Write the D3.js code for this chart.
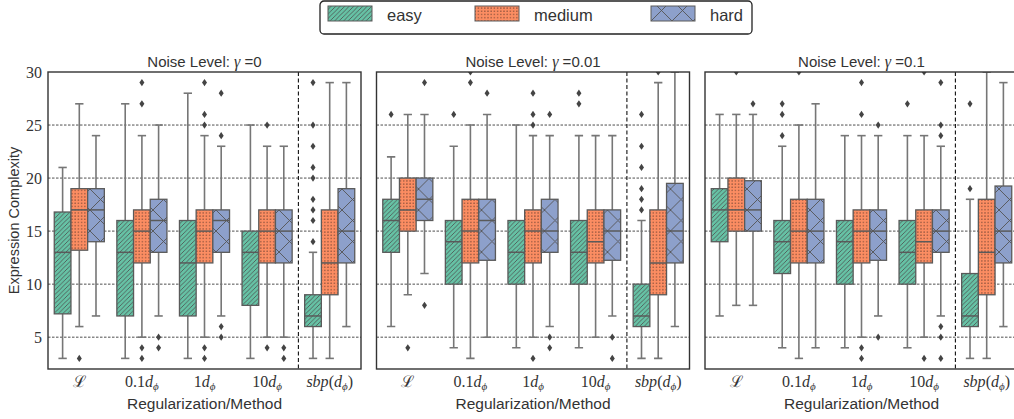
<!DOCTYPE html>
<html>
<head>
<meta charset="utf-8">
<script src="https://cdn.jsdelivr.net/npm/d3@7"></script>
<style>
body { margin: 0; background: #fff; }
svg { display: block; }
</style>
</head>
<body>
<svg id="chart"></svg>
<script>
const noiseLevels = ["0", "0.01", "0.1"];
const methods = ["L", "0.1", "1", "10", "sbp"];
const difficulties = ["easy", "medium", "hard"];
const colors = ["#66c2a5", "#fc8d62", "#8da0cb"];
const yTicks = [5, 10, 15, 20, 25, 30];

// box stats: [low whisker, q1, median, q3, high whisker], per method, per difficulty
const boxesNoise0 = [
    [[3, 7.2, 13, 16.8, 21], [6, 13.2, 17, 19, 27], [7, 14, 17, 19, 24]],
    [[3, 7, 13, 16, 27], [5, 12, 15, 17, 24], [7, 13, 16, 18, 25]],
    [[3, 7, 12, 16, 28], [5, 12, 15, 17, 24], [7, 13, 16, 17, 23]],
    [[3, 8, 13, 15, 25], [5, 12, 15, 17, 23], [5, 12, 15, 17, 23]],
    [[3, 6, 7, 9, 13], [3, 9, 12, 17, 29], [6, 12, 15, 19, 29]]
];
const fliersNoise0 = [
    [[], [3], []],
    [[], [27, 29, 4, 3], [5, 4]],
    [[], [25, 26, 29, 4, 3], [24, 28, 6, 5]],
    [[], [25, 4], [4, 3]],
    [[14, 16, 17, 18, 20, 21, 23, 25, 29], [], []]
];

const boxesNoise001 = [
    [[6, 13, 16, 18, 22], [9, 15, 17, 20, 26], [11, 16, 18, 20, 26]],
    [[4, 10, 14, 16, 23], [3, 12, 15, 18, 25], [5, 12.25, 16, 18, 26]],
    [[4, 10, 13, 16, 25], [5, 12, 15, 17, 24], [6, 13, 15, 18, 24]],
    [[4, 10, 13, 16, 24], [5, 12, 14, 17, 24], [7, 12.25, 15, 17, 24]],
    [[3, 6, 7, 10, 16], [3, 9, 12, 17, 29], [6, 12, 15, 19.5, 30]]
];
const fliersNoise001 = [
    [[26], [4], [29, 8]],
    [[26], [29, 30], [28]],
    [[], [25, 26, 28, 3], [26, 5, 4]],
    [[27, 28], [], [5, 3]],
    [[17, 18, 19, 21, 23, 26], [30], []]
];

const boxesNoise01 = [
    [[7, 14, 17, 19, 26], [8, 15, 17, 20, 26], [8, 15, 17, 19.75, 26]],
    [[4, 11, 14, 16, 23], [3, 12, 15, 18, 25], [4, 12, 15, 18, 27]],
    [[4, 10, 14, 16, 24], [5, 12, 15, 17, 24], [7, 12.25, 15, 17, 24]],
    [[4, 10, 13, 16, 24], [5, 12, 14, 17, 24], [7, 13, 15, 17, 23]],
    [[3, 6, 7, 11, 18], [3, 9, 13, 18, 30], [6, 12, 15, 19.25, 29]]
];
const fliersNoise01 = [
    [[], [30], [27]],
    [[24, 26, 27], [30], []],
    [[], [26, 29, 4, 3], [25, 5]],
    [[27], [30, 3], [24, 25, 29, 6, 5, 3]],
    [[19, 27], [], []]
];

const allBoxes = [boxesNoise0, boxesNoise001, boxesNoise01];
const allFliers = [fliersNoise0, fliersNoise001, fliersNoise01];

const width = 1014;
const height = 419;
const panelW = 313;
const panelStep = 328.5;
const marginLeft = 48;
const plotTop = 72;
const plotBottom = 369;

let svg = d3.select("#chart").attr("width", width).attr("height", height);

// hatch patterns
let defs = svg.append("defs");
let pEasy = defs.append("pattern").attr("id", "hatch-easy")
    .attr("patternUnits", "userSpaceOnUse").attr("width", 4.5).attr("height", 4.5);
pEasy.append("rect").attr("width", 4.5).attr("height", 4.5).attr("fill", colors[0]);
pEasy.append("path").attr("d", "M-1,1 l2,-2 M0,4.5 l4.5,-4.5 M3.5,5.5 l2,-2")
    .attr("stroke", "#4d4d4d").attr("stroke-width", 0.8);

let pMed = defs.append("pattern").attr("id", "hatch-medium")
    .attr("patternUnits", "userSpaceOnUse").attr("width", 3.2).attr("height", 3.2);
pMed.append("rect").attr("width", 3.2).attr("height", 3.2).attr("fill", colors[1]);
pMed.append("circle").attr("cx", 1.6).attr("cy", 1.6).attr("r", 0.7).attr("fill", "#7a4836");

let pHard = defs.append("pattern").attr("id", "hatch-hard")
    .attr("patternUnits", "userSpaceOnUse").attr("width", 21).attr("height", 21);
pHard.append("rect").attr("width", 21).attr("height", 21).attr("fill", colors[2]);
pHard.append("path").attr("d", "M0,0 L21,21 M21,0 L0,21")
    .attr("stroke", "#555").attr("stroke-width", 0.9);

const fills = ["url(#hatch-easy)", "url(#hatch-medium)", "url(#hatch-hard)"];

defs.append("clipPath").attr("id", "plotclip")
    .append("rect").attr("x", 0).attr("y", plotTop).attr("width", panelW).attr("height", plotBottom - plotTop);

let y = d3.scaleLinear().domain([2, 30]).range([plotBottom, plotTop]);
let xOuter = d3.scaleBand().domain(methods).range([0, panelW]);
let xInner = d3.scaleBand().domain(difficulties)
    .range([xOuter.bandwidth() * 0.1, xOuter.bandwidth() * 0.9]);

// x tick labels (math)
const tickParts = {
    "L": [{ t: "ℒ", f: "DejaVu Serif", it: false }],
    "0.1": [{ t: "0.1" }, { t: "d", it: true }, { t: "ϕ", it: true, sub: true }],
    "1": [{ t: "1" }, { t: "d", it: true }, { t: "ϕ", it: true, sub: true }],
    "10": [{ t: "10" }, { t: "d", it: true }, { t: "ϕ", it: true, sub: true }],
    "sbp": [{ t: "sbp", it: true }, { t: "(" }, { t: "d", it: true }, { t: "ϕ", it: true, sub: true }, { t: ")" }]
};

const diamond = "M0,-3.6 L2.5,0 L0,3.6 L-2.5,0Z";

noiseLevels.forEach((noise, pi) => {
    let g = svg.append("g").attr("transform", `translate(${marginLeft + pi * panelStep},0)`);
    let boxes = allBoxes[pi];
    let fliers = allFliers[pi];

    // grid
    g.selectAll(".grid").data([5, 10, 15, 20, 25]).enter().append("line")
        .attr("x1", 0).attr("x2", panelW)
        .attr("y1", d => y(d)).attr("y2", d => y(d))
        .attr("stroke", "#222").attr("stroke-width", 0.8)
        .attr("stroke-dasharray", "2.5,1.5");

    // separator before sbp
    g.append("line")
        .attr("x1", xOuter("sbp")).attr("x2", xOuter("sbp"))
        .attr("y1", plotTop).attr("y2", plotBottom)
        .attr("stroke", "#111").attr("stroke-width", 1.1)
        .attr("stroke-dasharray", "4,2.5");

    let plot = g.append("g").attr("clip-path", "url(#plotclip)");

    methods.forEach((m, mi) => {
        difficulties.forEach((dif, di) => {
            let s = boxes[mi][di];
            let x0 = xOuter(m) + xInner(dif);
            let bw = xInner.bandwidth();
            let cx = x0 + bw / 2;
            let grp = plot.append("g");
            // whiskers
            grp.append("line").attr("x1", cx).attr("x2", cx)
                .attr("y1", y(s[3])).attr("y2", y(s[4]))
                .attr("stroke", "#767676").attr("stroke-width", 1.6);
            grp.append("line").attr("x1", cx).attr("x2", cx)
                .attr("y1", y(s[0])).attr("y2", y(s[1]))
                .attr("stroke", "#767676").attr("stroke-width", 1.6);
            // caps
            [s[0], s[4]].forEach(v => {
                grp.append("line").attr("x1", cx - bw / 4).attr("x2", cx + bw / 4)
                    .attr("y1", y(v)).attr("y2", y(v))
                    .attr("stroke", "#767676").attr("stroke-width", 1.6);
            });
            // box
            grp.append("rect")
                .attr("x", x0).attr("y", y(s[3]))
                .attr("width", bw).attr("height", y(s[1]) - y(s[3]))
                .attr("fill", fills[di])
                .attr("stroke", "#5a5a5a").attr("stroke-width", 1.3);
            // median
            grp.append("line").attr("x1", x0).attr("x2", x0 + bw)
                .attr("y1", y(s[2])).attr("y2", y(s[2]))
                .attr("stroke", "#5a5a5a").attr("stroke-width", 1.5);
            // fliers
            grp.selectAll(".flier").data(fliers[mi][di]).enter().append("path")
                .attr("d", diamond)
                .attr("transform", d => `translate(${cx},${y(d)})`)
                .attr("fill", "#444");
        });
    });

    // frame
    g.append("rect").attr("x", 0).attr("y", plotTop)
        .attr("width", panelW).attr("height", plotBottom - plotTop)
        .attr("fill", "none").attr("stroke", "#333").attr("stroke-width", 1.4);

    // y axis ticks only on first panel
    if (pi == 0) {
        let axisY = d3.axisLeft(y).tickValues(yTicks).tickSize(0).tickPadding(6);
        let ax = g.append("g").call(axisY);
        ax.select(".domain").remove();
        ax.selectAll("text")
            .attr("font-family", "Liberation Serif")
            .attr("font-size", 16)
            .attr("fill", "#333");
    }

    // x tick labels
    methods.forEach(m => {
        let t = g.append("text")
            .attr("x", xOuter(m) + xOuter.bandwidth() / 2)
            .attr("y", 387)
            .attr("text-anchor", "middle")
            .attr("font-family", "Liberation Serif")
            .attr("font-size", 16)
            .attr("fill", "#333");
        tickParts[m].forEach(p => {
            let ts = t.append("tspan").text(p.t);
            if (p.it) ts.attr("font-style", "italic");
            if (p.f) ts.attr("font-family", p.f);
            if (p.sub) ts.attr("font-size", 11).attr("dy", 3);
            else if (p.t == ")") ts.attr("dy", -3);
        });
    });

    // x label
    g.append("text")
        .attr("x", panelW / 2).attr("y", 409)
        .attr("text-anchor", "middle")
        .attr("font-family", "Liberation Sans")
        .attr("font-size", 15.5)
        .attr("fill", "#333")
        .text("Regularization/Method");

    // title
    let title = g.append("text")
        .attr("x", panelW / 2).attr("y", 67)
        .attr("text-anchor", "middle")
        .attr("font-family", "Liberation Sans")
        .attr("font-size", 15)
        .attr("fill", "#333");
    title.append("tspan").text("Noise Level: ");
    title.append("tspan").text("γ").attr("font-family", "Liberation Serif").attr("font-style", "italic").attr("font-size", 16);
    title.append("tspan").text(" =" + noise);
});

// y label
svg.append("text")
    .attr("transform", `translate(19,${(plotTop + plotBottom) / 2}) rotate(-90)`)
    .attr("text-anchor", "middle")
    .attr("font-family", "Liberation Sans")
    .attr("font-size", 14.5)
    .attr("fill", "#333")
    .text("Expression Complexity");

// legend
let legend = svg.append("g");
legend.append("rect")
    .attr("x", 320).attr("y", 1).attr("width", 432).attr("height", 33).attr("rx", 4)
    .attr("fill", "#fff").attr("stroke", "#222").attr("stroke-width", 1.3);
const legendX = [328, 475, 651];
difficulties.forEach((d, i) => {
    legend.append("rect")
        .attr("x", legendX[i]).attr("y", 6).attr("width", 44).attr("height", 15)
        .attr("fill", fills[i]).attr("stroke", "#5a5a5a").attr("stroke-width", 1);
    legend.append("text")
        .attr("x", legendX[i] + 59).attr("y", 21)
        .attr("font-family", "Liberation Sans")
        .attr("font-size", 16.5)
        .attr("fill", "#333")
        .text(d);
});
</script>
</body>
</html>
